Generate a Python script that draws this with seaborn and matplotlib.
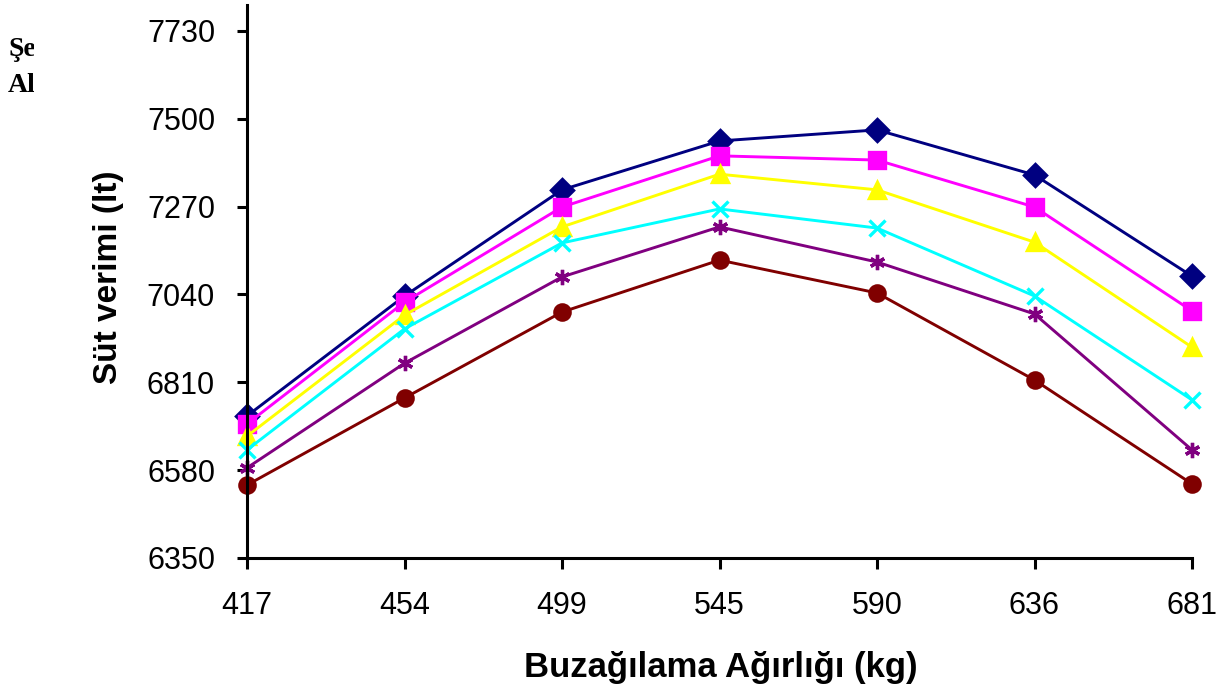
import matplotlib
matplotlib.use("Agg")
import matplotlib.pyplot as plt
import seaborn as sns
import pandas as pd
from matplotlib.patches import Rectangle
from matplotlib.font_manager import FontProperties

categories = ["417", "454", "499", "545", "590", "636", "681"]
series_names = ["Seri 1", "Seri 2", "Seri 3", "Seri 4", "Seri 5", "Seri 6"]
s1 = [6722, 7036, 7314, 7442, 7471, 7353, 7088]
s2 = [6701, 7020, 7269, 7403, 7392, 7269, 6997]
s3 = [6669, 6986, 7217, 7355, 7314, 7177, 6902]
s4 = [6633, 6950, 7175, 7264, 7214, 7036, 6764]
s5 = [6586, 6860, 7086, 7217, 7125, 6989, 6633]
s6 = [6541, 6769, 6994, 7130, 7044, 6816, 6544]
yticks = [6350, 6580, 6810, 7040, 7270, 7500, 7730]

colors = ["#000080", "#FF00FF", "#FFFF00", "#00FFFF", "#800080", "#800000"]
markers = ["D", "s", "^", "x", (6, 2, 0), "o"]

rows = []
for name, vals in zip(series_names, [s1, s2, s3, s4, s5, s6]):
    for c, v in zip(categories, vals):
        rows.append({"x": c, "y": v, "series": name})
df = pd.DataFrame(rows)

sns.set_theme(style="white")
plt.rcParams["font.family"] = ["Liberation Sans", "DejaVu Sans"]

fig = plt.figure(figsize=(12.26, 6.93), dpi=100)
ax = fig.add_axes([247 / 1226, 1 - 558 / 693, (1192 - 247) / 1226, (558 - 5) / 693])

sns.pointplot(data=df, x="x", y="y", hue="series", order=categories,
              hue_order=series_names, palette=colors, markers=markers,
              linestyles="-", errorbar=None, ax=ax, legend=False,
              markersize=11, linewidth=2.1, markeredgewidth=2.4)

for ln in ax.lines:
    ln.set_clip_on(False)
for coll in ax.collections:
    coll.set_clip_on(False)

ax.set_xlim(0, len(categories) - 1)
ax.set_ylim(6350, 7798)
ax.set_yticks(yticks)
ax.set_yticklabels([str(t) for t in yticks])
ax.set_xlabel("")
ax.set_ylabel("")

for side in ["top", "right"]:
    ax.spines[side].set_visible(False)
for side in ["left", "bottom"]:
    ax.spines[side].set_color("black")
    ax.spines[side].set_linewidth(2.2)

ax.tick_params(axis="y", direction="out", length=7, width=2.2, color="black",
               labelsize=22, pad=16, left=True)
ax.tick_params(axis="x", direction="out", length=8, width=2.2, color="black",
               labelsize=22, pad=16, bottom=True)
for lab in ax.get_xticklabels() + ax.get_yticklabels():
    lab.set_color("black")

fig.text(721 / 1226, 1 - 667 / 693, "Buzağılama Ağırlığı (kg)", ha="center",
         va="center", fontsize=25, fontweight="bold", color="black")
fig.text(108 / 1226, 1 - 277 / 693, "Süt verimi (lt)", ha="center",
         va="center", rotation=90, fontsize=24, fontweight="bold", color="black")

serif_fp = FontProperties(family=["Liberation Serif", "DejaVu Serif"], weight="bold", size=20)
fig.text(8 / 1226, 1 - 50 / 693, "Şekil", ha="left", va="center",
         fontproperties=serif_fp, color="black", zorder=-2)
fig.text(8 / 1226, 1 - 85 / 693, "Altı", ha="left", va="center",
         fontproperties=serif_fp, color="black", zorder=-2)
fig.patches.append(Rectangle((34 / 1226, 0), 1, 1, transform=fig.transFigure,
                             facecolor="white", edgecolor="none", zorder=-1))

fig.savefig("out.png", dpi=100)
